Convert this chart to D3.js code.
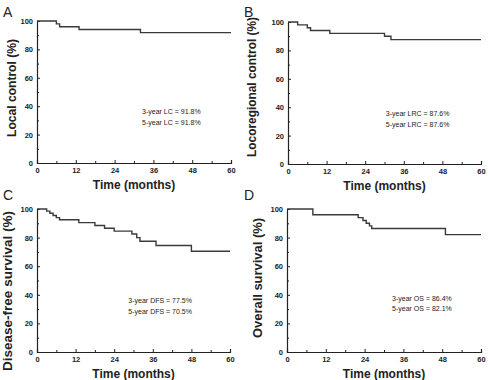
<!DOCTYPE html>
<html>
<head>
<meta charset="utf-8">
<script src="https://d3js.org/d3.v7.min.js"></script>
<style>
  body { margin: 0; background: #fff; }
  text { font-family: "Liberation Sans", Arial, sans-serif; fill: #222; }
</style>
</head>
<body>
<div id="chart"></div>
<script>
// tick labels
var monthTicks = [0, 12, 24, 36, 48, 60];
var monthMinor = [6, 18, 30, 42, 54];
var pctTicks = [0, 20, 40, 60, 80, 100];
var pctMinor = [10, 30, 50, 70, 90];

// Kaplan-Meier curves (months, %)
var lcTime = [0, 6, 7, 13, 32];
var lcSurv = [100, 98, 96, 94, 91.8];
var lrcTime = [0, 3, 6, 7, 13, 30, 32];
var lrcSurv = [100, 98, 96, 94, 92, 90, 87.6];
var dfsTime = [0, 3, 4, 5, 6, 7, 13, 18, 21, 24, 29.5, 31, 32, 37, 48];
var dfsSurv = [100, 98.5, 97, 95.5, 94, 92.5, 90.5, 88.5, 86.5, 84.5, 82.5, 80, 77.5, 74.5, 70.5];
var osTime = [0, 8, 22, 23.5, 24.5, 25.5, 26.2, 49];
var osSurv = [100, 96, 94, 92, 90, 88.2, 86.4, 82.1];

var panelLetters = ["A", "B", "C", "D"];
var yTitles = ["Local control (%)", "Locoregional control (%)", "Disease-free survival (%)", "Overall survival (%)"];
var notes3 = ["3-year LC = 91.8%", "3-year LRC = 87.6%", "3-year DFS = 77.5%", "3-year OS = 86.4%"];
var notes5 = ["5-year LC = 91.8%", "5-year LRC = 87.6%", "5-year DFS = 70.5%", "5-year OS = 82.1%"];
var xTitle = "Time (months)";

var curves = [[lcTime, lcSurv], [lrcTime, lrcSurv], [dfsTime, dfsSurv], [osTime, osSurv]];

// panel frames (plot area in page pixels), y title placement, note anchor (months, %)
var frames = [
  {x0: 37, x1: 231, y0: 21, y1: 163, lx: 3, ly: 17, tx: 16, tc: 88, tl: 98, note: [32.5, 34.2]},
  {x0: 288, x1: 481, y0: 22, y1: 164, lx: 244, ly: 17, tx: 255.5, tc: 87, tl: 140, note: [30.4, 33.8]},
  {x0: 37, x1: 230, y0: 209, y1: 352, lx: 3, ly: 200, tx: 12, tc: 291, tl: 160, note: [28.4, 34.3]},
  {x0: 287, x1: 481, y0: 209, y1: 352, lx: 244, ly: 200, tx: 262, tc: 278, tl: 120, note: [32.5, 36]}
];

var svg = d3.select("#chart").append("svg")
  .attr("width", 488).attr("height", 380);

frames.forEach(function(f, i) {
  var x = d3.scaleLinear().domain([0, 60]).range([f.x0, f.x1]);
  var y = d3.scaleLinear().domain([0, 100]).range([f.y1, f.y0]);
  var g = svg.append("g");

  // x axis, ticks inward
  g.append("g").attr("transform", "translate(0," + f.y1 + ")")
    .call(d3.axisBottom(x).tickValues(monthTicks).tickSize(-3).tickPadding(5));
  g.append("g").attr("transform", "translate(0," + f.y1 + ")")
    .call(d3.axisBottom(x).tickValues(monthMinor).tickSize(-2).tickFormat(""))
    .select(".domain").remove();
  // y axis
  g.append("g").attr("transform", "translate(" + f.x0 + ",0)")
    .call(d3.axisLeft(y).tickValues(pctTicks).tickSize(-3).tickPadding(4));
  g.append("g").attr("transform", "translate(" + f.x0 + ",0)")
    .call(d3.axisLeft(y).tickValues(pctMinor).tickSize(-2).tickFormat(""))
    .select(".domain").remove();

  g.selectAll(".domain").attr("stroke", "#222").attr("stroke-width", 1.2);
  g.selectAll(".tick line").attr("stroke", "#222");
  g.selectAll(".tick text").attr("font-size", 7.5).attr("font-weight", "bold")
    .style("font-family", "'Liberation Sans', Arial, sans-serif").attr("fill", "#333");

  // curve
  var t = curves[i][0].concat([60]);
  var s = curves[i][1].concat([curves[i][1][curves[i][1].length - 1]]);
  var pts = t.map(function(d, k) { return [d, s[k]]; });
  g.append("path")
    .datum(pts)
    .attr("fill", "none")
    .attr("stroke", "#3a3a3a")
    .attr("stroke-width", 1.4)
    .attr("d", d3.line().curve(d3.curveStepAfter)
      .x(function(d) { return x(d[0]); })
      .y(function(d) { return y(d[1]); }));

  // titles
  g.append("text")
    .attr("transform", "translate(" + f.tx + "," + f.tc + ") rotate(-90)")
    .attr("text-anchor", "middle")
    .attr("font-size", 12.5).attr("font-weight", "bold")
    .attr("textLength", f.tl).attr("lengthAdjust", "spacingAndGlyphs")
    .text(yTitles[i]);
  g.append("text")
    .attr("x", (f.x0 + f.x1) / 2).attr("y", f.y1 + 26)
    .attr("text-anchor", "middle")
    .attr("font-size", 12).attr("font-weight", "bold")
    .text(xTitle);
  g.append("text")
    .attr("x", f.lx).attr("y", f.ly)
    .attr("font-size", 14).attr("fill", "#333")
    .text(panelLetters[i]);

  // annotations
  g.append("text")
    .attr("x", x(f.note[0])).attr("y", y(f.note[1]))
    .attr("font-size", 7).attr("fill", "#222")
    .text(notes3[i]);
  g.append("text")
    .attr("x", x(f.note[0])).attr("y", y(f.note[1]) + 10.7)
    .attr("font-size", 7).attr("fill", "#222")
    .text(notes5[i]);
});
</script>
</body>
</html>
